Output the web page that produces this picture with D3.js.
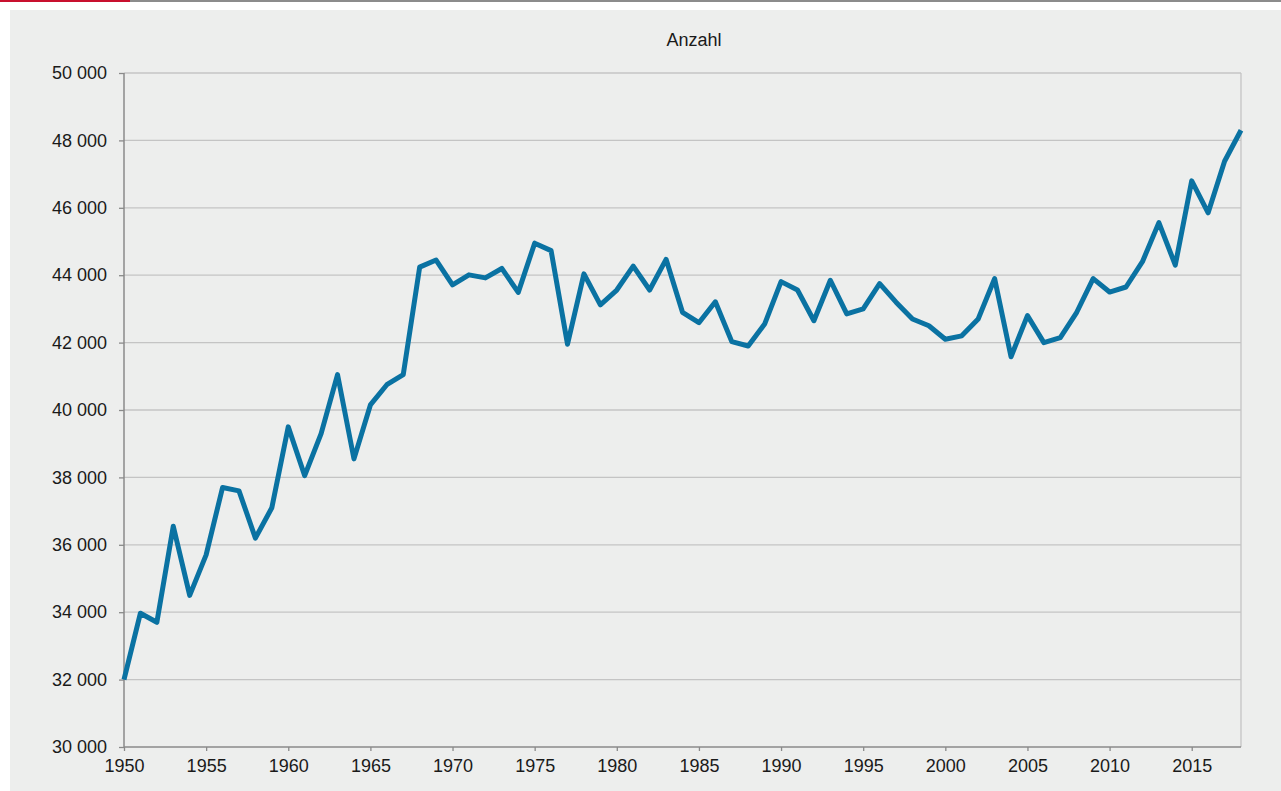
<!DOCTYPE html>
<html>
<head>
<meta charset="utf-8">
<script src="https://cdn.jsdelivr.net/npm/d3@7"></script>
<style>
  body { margin: 0; background: #fff; }
  svg { display: block; font-family: "Liberation Sans", Arial, sans-serif; }
  .tick text { font-size: 18px; fill: #1a1a1a; }
</style>
</head>
<body>
<svg width="1281" height="791"></svg>
<script>
const years = d3.range(1950, 2019);

const values = [
  32000, 33970, 33700, 36550, 34500, 35700, 37700, 37600, 36200, 37100,
  39500, 38050, 39300, 41050, 38550, 40150, 40750, 41050, 44240, 44450,
  43710, 44010, 43920, 44200, 43490, 44950, 44730, 41950, 44040, 43120,
  43560, 44270, 43560, 44470, 42900, 42590, 43210, 42030, 41900, 42550,
  43810, 43560, 42650, 43850, 42850, 43000, 43750, 43200, 42700, 42500,
  42100, 42200, 42700, 43900, 41580, 42800, 42000, 42150, 42900, 43900,
  43500, 43650, 44400, 45560, 44300, 46800, 45850, 47380, 48300
];

const yTicks = [30000, 32000, 34000, 36000, 38000, 40000, 42000, 44000, 46000, 48000, 50000];
const xTicks = [1950, 1955, 1960, 1965, 1970, 1975, 1980, 1985, 1990, 1995, 2000, 2005, 2010, 2015];
const title = "Anzahl";

const svg = d3.select("svg");

// header strip
svg.append("rect").attr("x", 0).attr("y", 0).attr("width", 1281).attr("height", 791).attr("fill", "#fff");
svg.append("rect").attr("x", 130).attr("y", 0).attr("width", 1151).attr("height", 2).attr("fill", "#8c8c8c");
svg.append("rect").attr("x", 0).attr("y", 0).attr("width", 130).attr("height", 2).attr("fill", "#c8102e");
svg.append("rect").attr("x", 10).attr("y", 10).attr("width", 1271).attr("height", 781).attr("fill", "#edeeed");

const mLeft = 124, mRight = 1241, mTop = 73, mBottom = 747;

const x = d3.scaleLinear().domain([1950, 2018]).range([mLeft, mRight]);
const y = d3.scaleLinear().domain([30000, 50000]).range([mBottom, mTop]);

const fmt = v => d3.format(",")(v).replace(/,/g, " ");

// grid lines
svg.append("g")
  .selectAll("line")
  .data(yTicks.slice(1))
  .enter()
  .append("line")
  .attr("x1", mLeft)
  .attr("x2", mRight)
  .attr("y1", d => y(d))
  .attr("y2", d => y(d))
  .attr("stroke", "#c4c4c4")
  .attr("stroke-width", 1.3);

svg.append("line")
  .attr("x1", mRight).attr("x2", mRight)
  .attr("y1", mTop).attr("y2", mBottom)
  .attr("stroke", "#c4c4c4")
  .attr("stroke-width", 1.3);

// axes
const yAxis = svg.append("g")
  .attr("transform", `translate(${mLeft},0)`)
  .call(d3.axisLeft(y).tickValues(yTicks).tickFormat(fmt).tickSize(5).tickPadding(12));

const xAxis = svg.append("g")
  .attr("transform", `translate(0,${mBottom})`)
  .call(d3.axisBottom(x).tickValues(xTicks).tickFormat(d3.format("d")).tickSize(4).tickPadding(4));

[yAxis, xAxis].forEach(a => {
  a.select(".domain").attr("stroke", "#8a8a8a").attr("stroke-width", 1.5);
  a.selectAll(".tick line").attr("stroke", "#8a8a8a").attr("stroke-width", 1.3);
});
xAxis.select(".domain").attr("d", `M${mLeft},0H${mRight}`);
yAxis.select(".domain").attr("d", `M0,${mBottom}V${mTop}`);
xAxis.selectAll(".tick text").attr("dy", "0.95em");

svg.append("text")
  .attr("x", 694)
  .attr("y", 46)
  .attr("text-anchor", "middle")
  .attr("font-size", 18)
  .attr("fill", "#1a1a1a")
  .text(title);

// data line
const line = d3.line()
  .x((d, i) => x(years[i]))
  .y(d => y(d));

svg.append("path")
  .datum(values)
  .attr("d", line)
  .attr("fill", "none")
  .attr("stroke", "#0a72a2")
  .attr("stroke-width", 5)
  .attr("stroke-linejoin", "round");
</script>
</body>
</html>
